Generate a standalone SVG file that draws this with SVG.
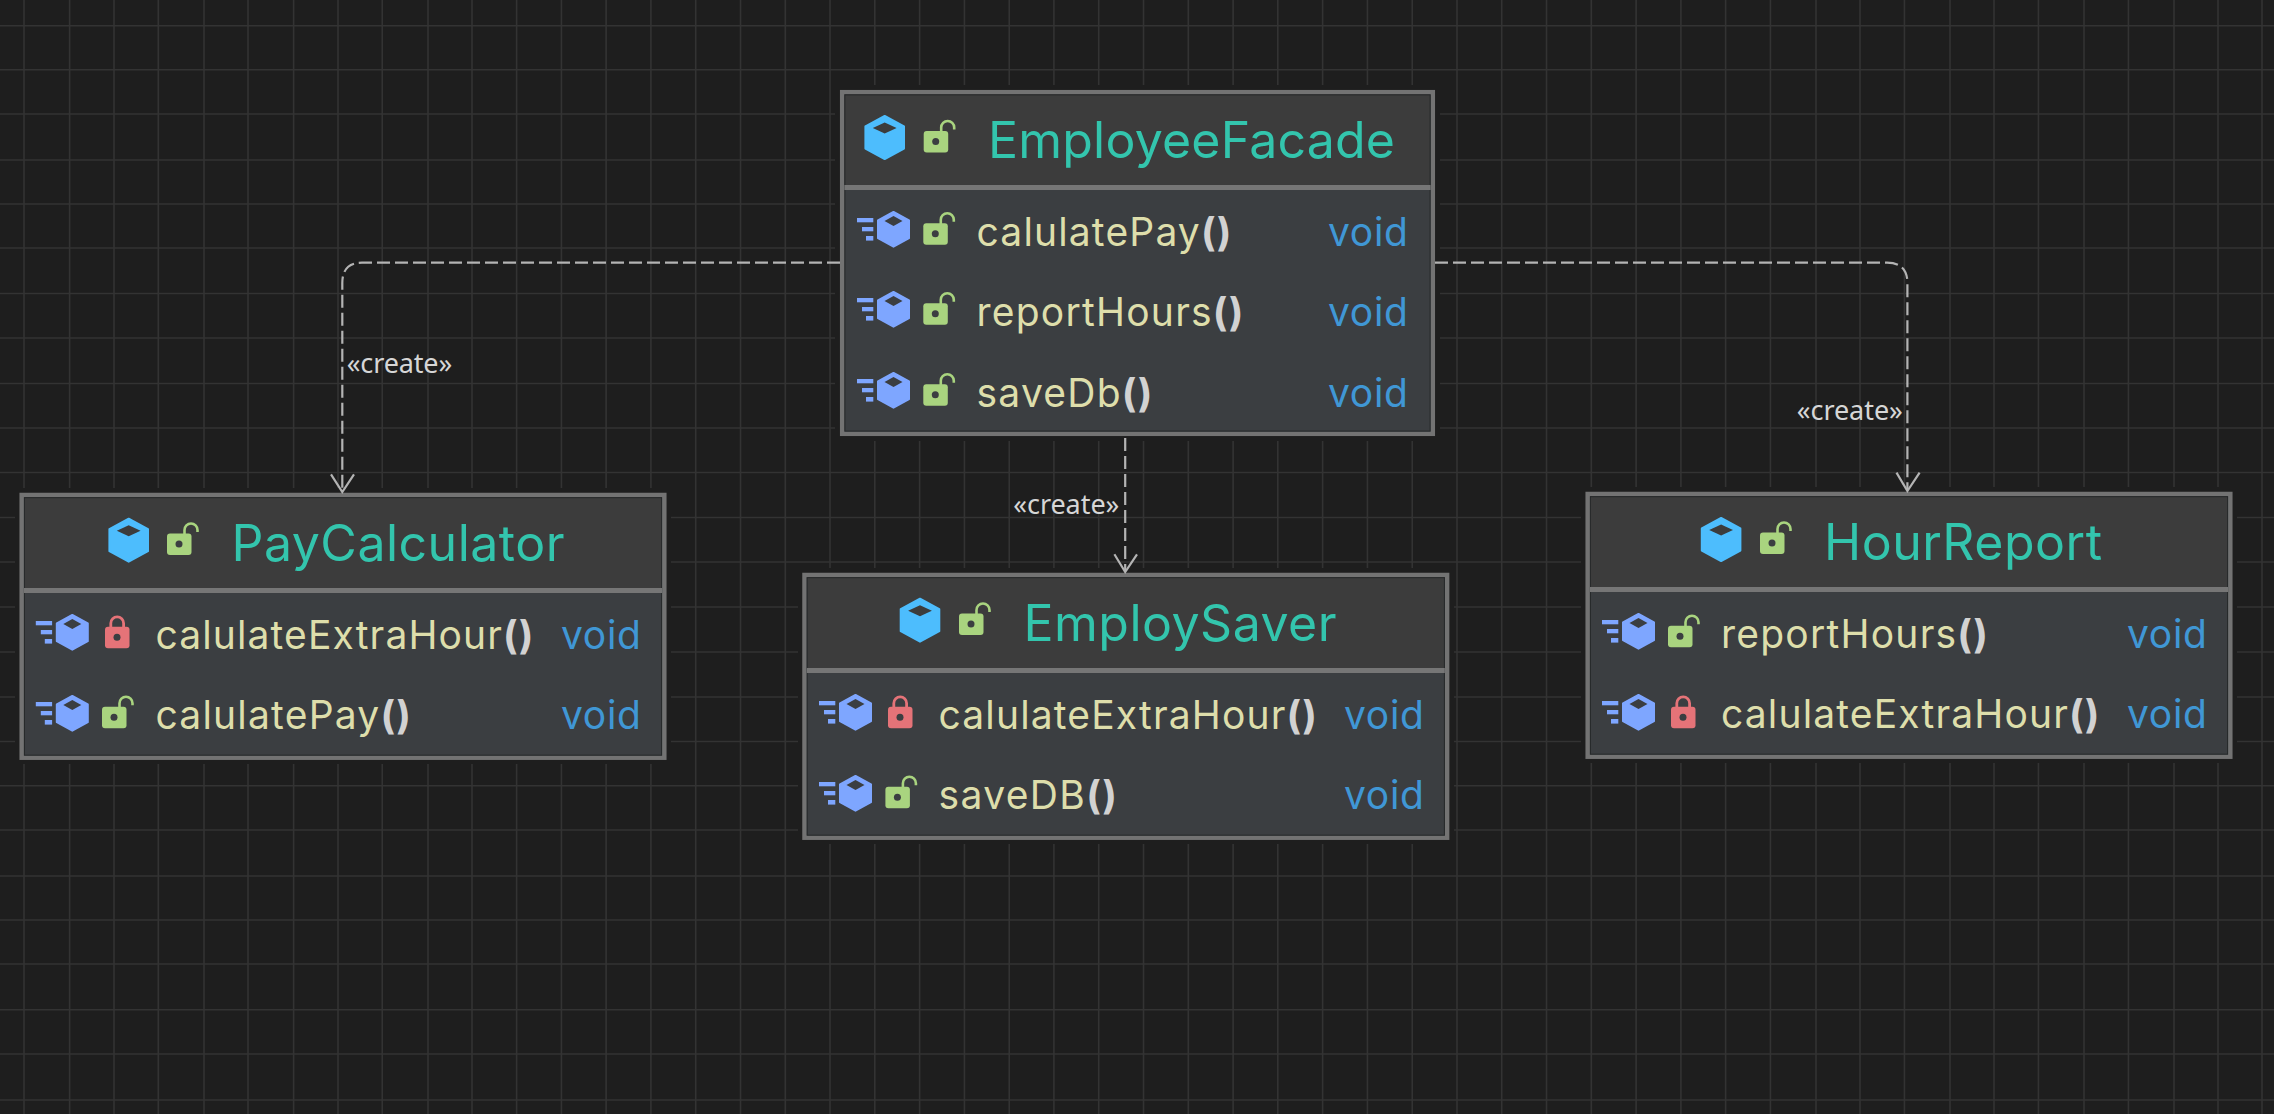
<svg xmlns="http://www.w3.org/2000/svg" width="2274" height="1114" viewBox="0 0 2274 1114">
<style>
.halo{fill:#1e1e1e}
.box{fill:#3b3e41;stroke:#737373;stroke-width:4.5}
.head{fill:#3c3c3c}
.sep{stroke:#767676;stroke-width:5}
.inner{fill:none;stroke:#26282a;stroke-width:1}
text{font-family:Inter,"Liberation Sans",sans-serif}
.title{font-size:50px;fill:#33c5ad}
.m{font-size:39px;fill:#dedeab}
.p{font-weight:700;fill:#d2d2d2}
.v{font-size:39px;fill:#4097d5}
.lab{font-family:"Noto Sans","Liberation Sans",sans-serif;font-size:27px;fill:#d6d6d6}
.conn{fill:none;stroke:#b4b4b4;stroke-width:2.2;stroke-dasharray:13 5}
.head-arrow{fill:none;stroke:#b4b4b4;stroke-width:2.2}
.grid{fill:none;stroke:#333333;stroke-width:1.6}
</style>
<defs>
<g id="chex"><path d="M20.3 1 L39.6 11.5 V33.5 L20.3 44 L1 33.5 V11.5 Z" fill="#4dbdfd" stroke="#4dbdfd" stroke-width="2" stroke-linejoin="round"/><path d="M20.3 7.5 L32.2 13 L20.3 18.5 L8.4 13 Z" fill="#3c3c3c"/></g>
<g id="mhex"><path d="M16.5 1 L32 9.5 V27.2 L16.5 35.7 L1 27.2 V9.5 Z" fill="#7ea6ff" stroke="#7ea6ff" stroke-width="2" stroke-linejoin="round"/><path d="M16.5 5 L25.5 10 L16.5 15 L7.5 10 Z" fill="#3b3e41"/><rect x="-20" y="7" width="16.3" height="4.3" fill="#7ea6ff"/><rect x="-15" y="16" width="11.3" height="4.3" fill="#7ea6ff"/><rect x="-11" y="25" width="7.3" height="4.6" fill="#7ea6ff"/></g>
<g id="open"><path d="M17.5 1 V-3.5 A6.5 6.5 0 0 1 30.5 -3.5 V-1.5" fill="none" stroke="#a9d47f" stroke-width="2.6"/><rect x="0" y="0" width="24.5" height="21.5" rx="3" fill="#a9d47f"/><circle cx="12" cy="10.5" r="3.5" fill="#3b3e41"/></g>
<g id="shut"><path d="M5.8 1 V-3.5 A6.4 6.4 0 0 1 18.6 -3.5 V1" fill="none" stroke="#e57378" stroke-width="2.8"/><rect x="0" y="0" width="24.5" height="21.5" rx="3" fill="#e57378"/><circle cx="12" cy="10.5" r="3.5" fill="#3b3e41"/></g>
</defs>
<rect width="2274" height="1114" fill="#1e1e1e"/>
<path class="grid" d="M24 0V1114M69.6 0V1114M114 0V1114M158.3 0V1114M204 0V1114M248 0V1114M293.6 0V1114M338 0V1114M382.2 0V1114M428 0V1114M472 0V1114M516.6 0V1114M561.4 0V1114M606.1 0V1114M650.9 0V1114M695.7 0V1114M740.5 0V1114M785.3 0V1114M830 0V1114M874.8 0V1114M919.6 0V1114M964.4 0V1114M1009.2 0V1114M1053.9 0V1114M1098.7 0V1114M1143.5 0V1114M1188.3 0V1114M1233.1 0V1114M1277.8 0V1114M1322.6 0V1114M1367.4 0V1114M1412.2 0V1114M1457 0V1114M1501.7 0V1114M1546.5 0V1114M1591.3 0V1114M1636.1 0V1114M1680.9 0V1114M1725.6 0V1114M1770.4 0V1114M1816 0V1114M1860 0V1114M1904.4 0V1114M1950 0V1114M1994 0V1114M2038.4 0V1114M2084 0V1114M2128.4 0V1114M2174 0V1114M2218 0V1114M2262 0V1114M0 25.7H2274M0 69.7H2274M0 114H2274M0 160H2274M0 204H2274M0 248H2274M0 293.5H2274M0 338H2274M0 383.5H2274M0 428H2274M0 472.5H2274M0 517.5H2274M0 562H2274M0 607H2274M0 652H2274M0 697H2274M0 741.5H2274M0 785.7H2274M0 830H2274M0 876H2274M0 920H2274M0 964H2274M0 1009.7H2274M0 1054H2274M0 1100H2274"/>

<g id="EmployeeFacade">
<rect class="halo" x="835" y="85" width="605" height="356"/>
<rect class="box" x="842.2" y="92.2" width="590.6" height="341.6"/>
<rect class="head" x="844.4" y="94.4" width="586.2" height="92"/>
<rect class="inner" x="844.9" y="94.9" width="585.2" height="336.2"/>
<path class="sep" d="M844.4 187.5H1430.6"/>
<use href="#chex" x="864.4" y="115"/>
<use href="#open" x="923.7" y="131"/>
<text class="title" x="988" y="158" textLength="407">EmployeeFacade</text>
<use href="#mhex" x="877" y="211"/><use href="#open" x="923.3" y="223.3"/>
<text class="m" x="976.5" y="246.2" textLength="255">calulatePay<tspan class="p">()</tspan></text>
<text class="v" x="1328" y="246.2" textLength="80">void</text>
<use href="#mhex" x="877" y="291"/><use href="#open" x="923.3" y="303.3"/>
<text class="m" x="976.5" y="326.2" textLength="267">reportHours<tspan class="p">()</tspan></text>
<text class="v" x="1328" y="326.2" textLength="80">void</text>
<use href="#mhex" x="877" y="372"/><use href="#open" x="923.3" y="384.3"/>
<text class="m" x="976.5" y="406.7" textLength="176">saveDb<tspan class="p">()</tspan></text>
<text class="v" x="1328" y="406.7" textLength="80">void</text>
</g>

<g id="PayCalculator">
<rect class="halo" x="15" y="488" width="656" height="276"/>
<rect class="box" x="21.7" y="495" width="642.6" height="262.7"/>
<rect class="head" x="24" y="497.2" width="638" height="92"/>
<rect class="inner" x="24.4" y="497.7" width="637.2" height="257.5"/>
<path class="sep" d="M24 590.5H662"/>
<use href="#chex" x="108.4" y="517.7"/>
<use href="#open" x="167" y="533.5"/>
<text class="title" x="231.5" y="560.7" textLength="333">PayCalculator</text>
<use href="#mhex" x="55.8" y="614"/><use href="#shut" x="105" y="626.7"/>
<text class="m" x="155.5" y="648.5" textLength="378">calulateExtraHour<tspan class="p">()</tspan></text>
<text class="v" x="561" y="648.5" textLength="80">void</text>
<use href="#mhex" x="55.8" y="695"/><use href="#open" x="102" y="706.7"/>
<text class="m" x="155.5" y="728.5" textLength="255.5">calulatePay<tspan class="p">()</tspan></text>
<text class="v" x="561" y="728.5" textLength="80">void</text>
</g>

<g id="EmploySaver">
<rect class="halo" x="798" y="568" width="656" height="276"/>
<rect class="box" x="804.5" y="575" width="642.6" height="262.7"/>
<rect class="head" x="806.8" y="577.2" width="638" height="92"/>
<rect class="inner" x="807.2" y="577.7" width="637.2" height="257.5"/>
<path class="sep" d="M806.8 670.5H1444.8"/>
<use href="#chex" x="899.7" y="597.7"/>
<use href="#open" x="959" y="613.5"/>
<text class="title" x="1023.5" y="640.7" textLength="313">EmploySaver</text>
<use href="#mhex" x="839" y="694"/><use href="#shut" x="888" y="706.7"/>
<text class="m" x="938.5" y="728.5" textLength="378.5">calulateExtraHour<tspan class="p">()</tspan></text>
<text class="v" x="1344" y="728.5" textLength="80">void</text>
<use href="#mhex" x="839" y="775"/><use href="#open" x="885.4" y="786.7"/>
<text class="m" x="938.5" y="808.5" textLength="178.5">saveDB<tspan class="p">()</tspan></text>
<text class="v" x="1344" y="808.5" textLength="80">void</text>
</g>

<g id="HourReport">
<rect class="halo" x="1581" y="487" width="656" height="276"/>
<rect class="box" x="1587.7" y="494" width="642.6" height="262.7"/>
<rect class="head" x="1590" y="496.2" width="638" height="92"/>
<rect class="inner" x="1590.4" y="496.7" width="637.2" height="257.5"/>
<path class="sep" d="M1590 589.5H2228"/>
<use href="#chex" x="1700.8" y="517"/>
<use href="#open" x="1760" y="532.5"/>
<text class="title" x="1824" y="559.7" textLength="278">HourReport</text>
<use href="#mhex" x="1622" y="613"/><use href="#open" x="1668" y="625.7"/>
<text class="m" x="1721" y="647.5" textLength="267">reportHours<tspan class="p">()</tspan></text>
<text class="v" x="2127" y="647.5" textLength="80">void</text>
<use href="#mhex" x="1622" y="694"/><use href="#shut" x="1671" y="706.7"/>
<text class="m" x="1721" y="727.5" textLength="378.5">calulateExtraHour<tspan class="p">()</tspan></text>
<text class="v" x="2127" y="727.5" textLength="80">void</text>
</g>

<g id="connectors">
<path class="conn" d="M840 262.7H362 Q342.3 262.7 342.3 283 V491"/>
<path class="head-arrow" d="M331 474.3L342.3 492L354 474.3"/>
<text class="lab" x="346.7" y="373.2" textLength="105.5">«create»</text>
<path class="conn" d="M1125.2 438V571"/>
<path class="head-arrow" d="M1114.4 554.3L1125.2 572L1137 554.3"/>
<text class="lab" x="1013.3" y="514" textLength="106">«create»</text>
<path class="conn" d="M1435 262.7H1887 Q1907.4 262.7 1907.4 283 V490"/>
<path class="head-arrow" d="M1896.5 472.6L1907.4 491L1919.6 472.6"/>
<text class="lab" x="1796.8" y="420" textLength="106">«create»</text>
</g>
</svg>
